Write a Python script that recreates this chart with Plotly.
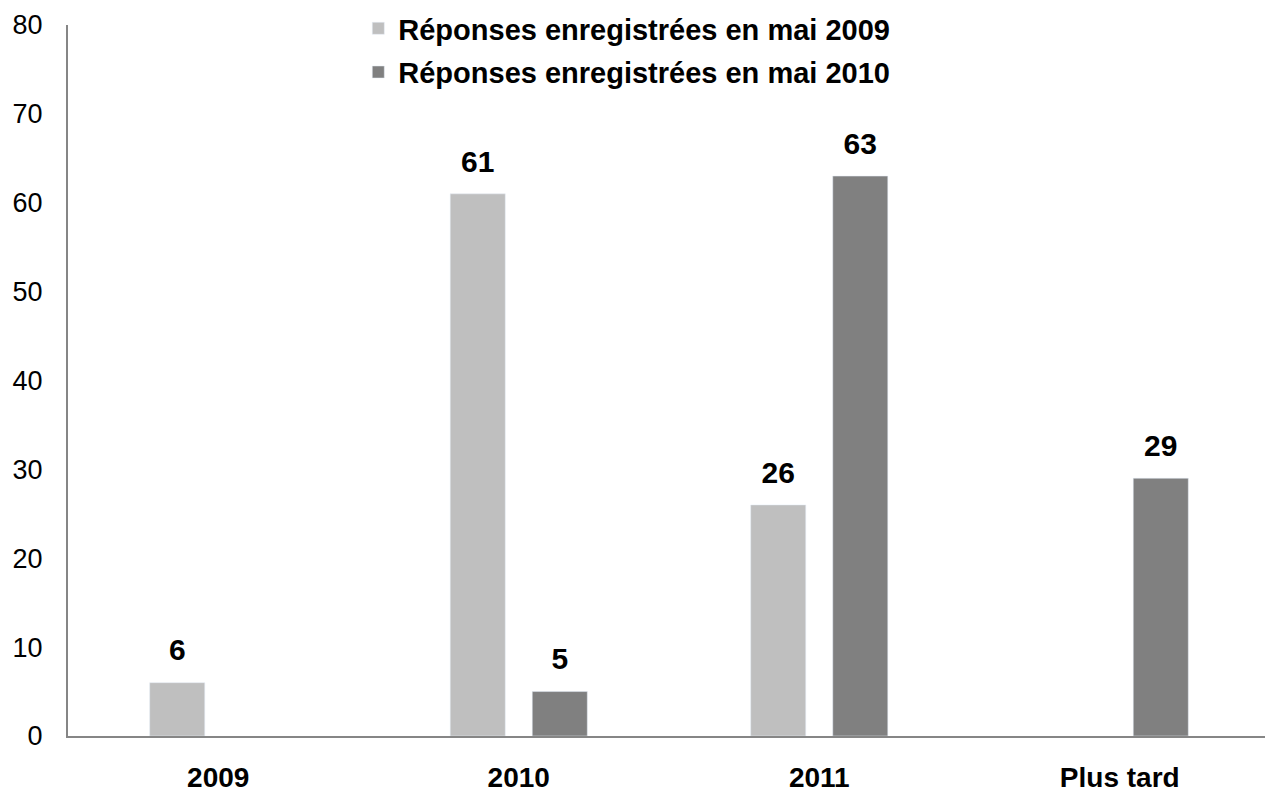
import plotly.graph_objects as go

categories = ["2009", "2010", "2011", "Plus tard"]
series_2009 = [6, 61, 26, None]
series_2010 = [None, 5, 63, 29]
names = ["Réponses enregistrées en mai 2009", "Réponses enregistrées en mai 2010"]
y_ticks = [0, 10, 20, 30, 40, 50, 60, 70, 80]

FONT = "Liberation Sans, Arial, sans-serif"

fig = go.Figure()
for name, vals, col, grp in [(names[0], series_2009, "#BFBFBF", "a"),
                             (names[1], series_2010, "#808080", "b")]:
    fig.add_trace(go.Bar(x=categories, y=vals, name=name, marker_color=col,
                         legendgroup=grp))

# value labels: grouped scatter so they sit over their bars
for vals in [series_2009, series_2010]:
    fig.add_trace(go.Scatter(
        x=categories, y=vals, mode="markers+text", showlegend=False,
        text=["<b>%d</b>" % v if v is not None else "" for v in vals],
        textposition="top center", cliponaxis=False, hoverinfo="skip",
        marker=dict(size=22, opacity=0),
        textfont=dict(size=30, color="black", family=FONT),
    ))

fig.update_layout(
    width=1265, height=785,
    margin=dict(l=60, r=3, t=17, b=57, autoexpand=False),
    plot_bgcolor="white", paper_bgcolor="white",
    barmode="group", bargap=0.454, bargroupgap=0.329,
    scattermode="group", scattergap=0.454,
    font=dict(family=FONT, size=27, color="black"),
    showlegend=True,
    legend=dict(x=0.2415, y=1.031, xanchor="left", yanchor="top",
                traceorder="grouped", tracegroupgap=3,
                font=dict(size=29, family=FONT, weight="bold"),
                bgcolor="rgba(0,0,0,0)"),
)
fig.update_xaxes(showline=True, linecolor="#868686", linewidth=2,
                 ticks="", showgrid=False, automargin=False,
                 tickfont=dict(size=28, family=FONT, weight="bold"),
                 ticklabelstandoff=15)
fig.update_yaxes(range=[0, 80], tickvals=y_ticks, showline=True,
                 linecolor="#868686", linewidth=2, ticks="", showgrid=False,
                 zeroline=False, automargin=False,
                 tickfont=dict(size=27, family=FONT),
                 ticklabelstandoff=18)

fig.write_html("out.html")
